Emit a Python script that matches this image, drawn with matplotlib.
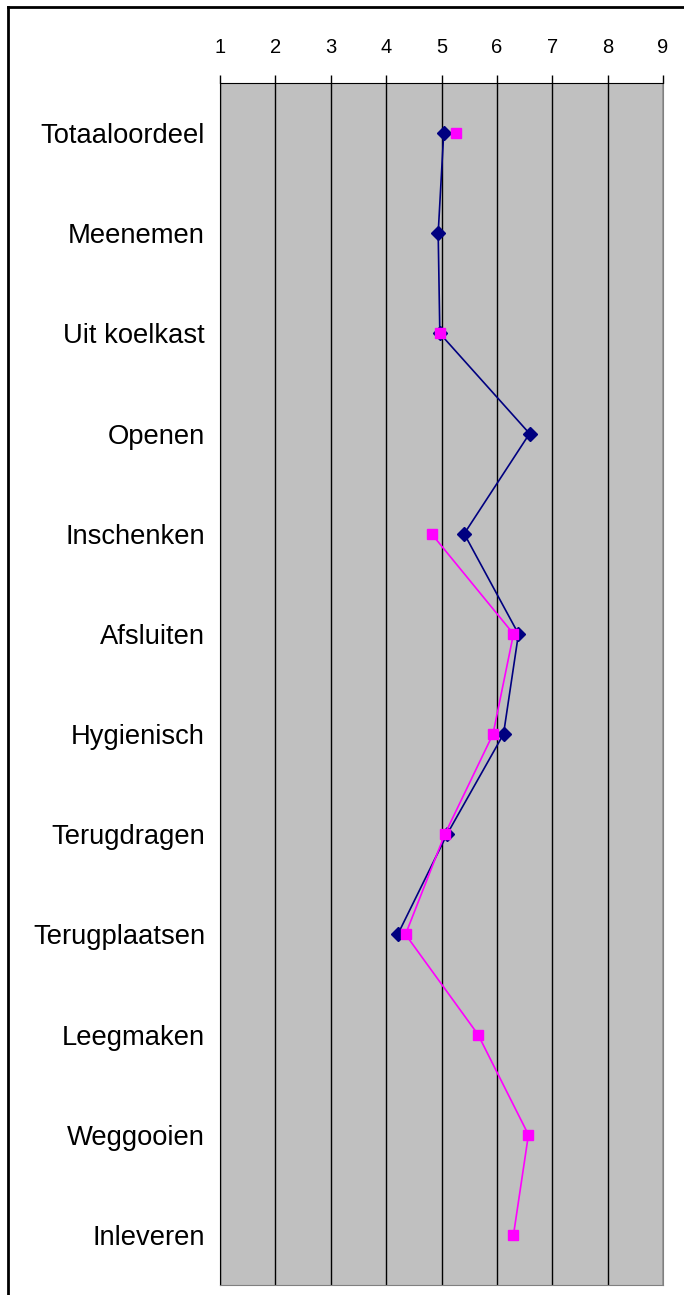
import numpy as np
import matplotlib
matplotlib.use("Agg")
import matplotlib.pyplot as plt
from matplotlib.lines import Line2D

plt.rcParams['font.family'] = ['Liberation Sans', 'DejaVu Sans']

# data
categories = ['Totaaloordeel', 'Meenemen', 'Uit koelkast', 'Openen', 'Inschenken',
              'Afsluiten', 'Hygienisch', 'Terugdragen', 'Terugplaatsen',
              'Leegmaken', 'Weggooien', 'Inleveren']
series_navy = [5.04, 4.94, 4.97, 6.59, 5.41, 6.39, 6.12, 5.10, 4.21, np.nan, np.nan, np.nan]
series_pink = [5.26, np.nan, 4.98, np.nan, 4.82, 6.30, 5.93, 5.06, 4.35, 5.66, 6.57, 6.30]
x_ticks = [1, 2, 3, 4, 5, 6, 7, 8, 9]

fig = plt.figure(figsize=(6.84, 12.95), dpi=100)
ax = fig.add_axes([220 / 684, 1 - 1285 / 1295, 443 / 684, 1202 / 1295])
ax.set_facecolor('#C0C0C0')

y = np.arange(len(categories))
ax.plot(series_navy, y, color='#000080', lw=1.2, marker='D', ms=7, mfc='#000080', mec='#000080', zorder=3)
ax.plot(series_pink, y, color='#FF00FF', lw=1.2, marker='s', ms=7, mfc='#FF00FF', mec='#FF00FF', zorder=4)

ax.set_xlim(1, 9)
ax.set_ylim(len(categories) - 0.5, -0.5)
ax.set_xticks(x_ticks)
ax.set_xticklabels([str(t) for t in x_ticks], fontsize=14.5)
ax.xaxis.tick_top()
ax.tick_params(axis='x', direction='out', length=6, width=1, pad=12.5, color='black')
ax.set_yticks(y)
ax.set_yticklabels(categories, fontsize=19.7)
ax.tick_params(axis='y', length=0, pad=10.8)
ax.grid(axis='x', color='black', lw=1)
ax.set_axisbelow(True)
for side in ['top', 'left']:
    ax.spines[side].set_color('black')
for side in ['bottom', 'right']:
    ax.spines[side].set_color('#808080')

# outer chart frame (left and top edges visible)
fig.add_artist(Line2D([8 / 684, 8 / 684], [0, 1 - 7 / 1295], transform=fig.transFigure, color='black', lw=2))
fig.add_artist(Line2D([8 / 684, 1], [1 - 7 / 1295, 1 - 7 / 1295], transform=fig.transFigure, color='black', lw=2))

fig.savefig('out.png', dpi=100)
